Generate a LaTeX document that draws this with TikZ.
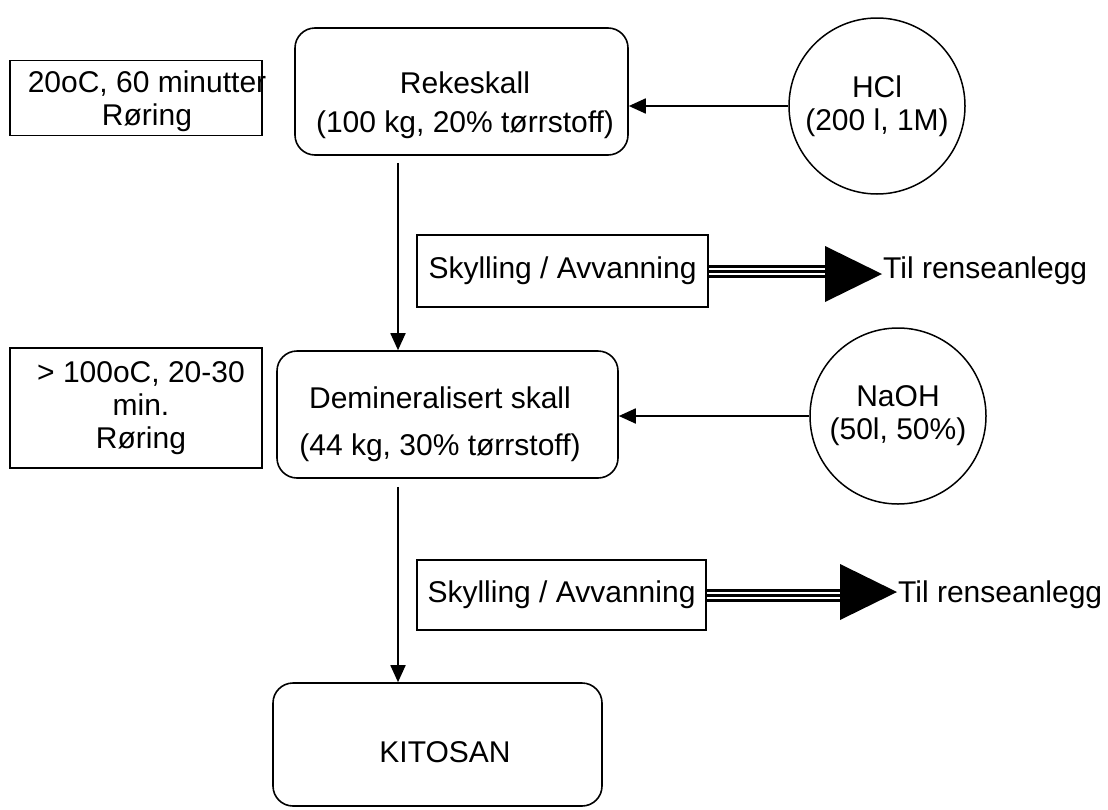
\documentclass[tikz,border=0pt]{standalone}
\usepackage{fontspec}
\setmainfont{Liberation Sans}
\usetikzlibrary{arrows.meta}

\begin{document}
\begin{tikzpicture}[x=1pt,y=-1pt,
  every node/.style={font=\fontsize{30}{33}\selectfont, inner sep=0pt, align=center},
  prodbox/.style={draw, line width=1.6pt, rounded corners=20pt},
  condbox/.style={draw, line width=1.6pt},
  chem/.style={draw, circle, line width=1.5pt, minimum size=176pt},
  flow/.style={line width=1.8pt, -{Triangle[length=17pt,width=15pt]}},
  waste/.style={line width=3pt}]
\useasboundingbox (0,0) rectangle (1108,809);

% main line
\node (reke) [prodbox, minimum width=333, minimum height=127] at (461.5,91.5) {};
\node (reke-t) at (465,105) {Rekeskall\\[6pt](100 kg, 20\% tørrstoff)};
\node (demin) [prodbox, minimum width=341, minimum height=127] at (447.5,414.5) {};
\node (demin-t) at (440,424) {Demineralisert skall\\[14pt](44 kg, 30\% tørrstoff)};
\node (kito) [prodbox, minimum width=329, minimum height=123] at (437.5,744.5) {};
\node (kito-t) at (445,752) {KITOSAN};
\coordinate (axis) at (398,0);
\draw[flow, shorten <=7pt] (reke.south -| axis) -- (demin.north -| axis);
\draw[flow, shorten <=8pt] (demin.south -| axis) -- (kito.north -| axis);

% conditions
\node (cond1) [condbox, minimum width=252, minimum height=75] at (136,98) {};
\node (cond1-t) at (147,101) {20oC, 60 minutter\\Røring};
\node (cond2) [condbox, minimum width=252, minimum height=120] at (136,408) {};
\node (cond2-t) at (141,408) {> 100oC, 20-30\\min.\\Røring};

% chemicals
\node (hcl) [chem] at (877,106) {HCl\\(200 l, 1M)};
\node (naoh) [chem] at (898,416) {NaOH\\(50l, 50\%)};
\draw[flow] (hcl.west) -- (hcl.west -| reke.east);
\draw[flow] (naoh.west) -- (naoh.west -| demin.east);

% rinsing
\node (wash1) [condbox, minimum width=291, minimum height=72] at (562.5,271) {Skylling / Avvanning};
\node (wash2) [condbox, minimum width=289, minimum height=70] at (561.5,595) {Skylling / Avvanning};
\coordinate (base1) at (825,274);
\coordinate (base2) at (840,592);
\foreach \d in {-5,0,5} {
  \draw[waste] ([yshift=\d pt]wash1.east) -- ([yshift=\d pt]wash1.east -| base1);
  \draw[waste] ([yshift=\d pt]wash2.east) -- ([yshift=\d pt]wash2.east -| base2);
}
\fill (base1) ++(0,-28) -- ++(57,28) -- ++(-57,28) -- cycle;
\fill (base2) ++(0,-28) -- ++(57,28) -- ++(-57,28) -- cycle;
\node (drain1) [anchor=west] at ([xshift=58pt]wash1.east -| base1) {Til renseanlegg};
\node (drain2) [anchor=west] at ([xshift=58pt]wash2.east -| base2) {Til renseanlegg};
\end{tikzpicture}
\end{document}
